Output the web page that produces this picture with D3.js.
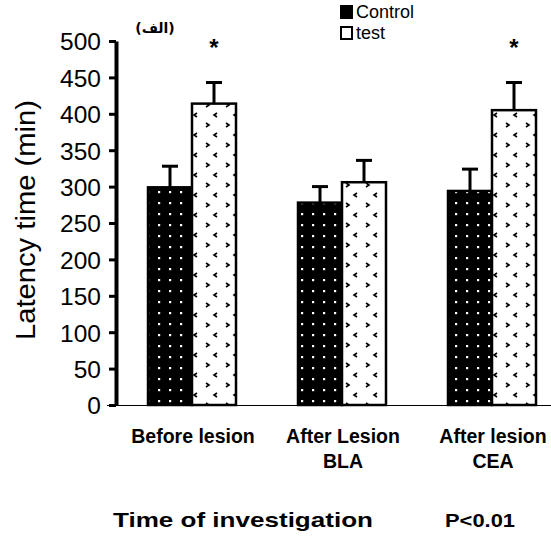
<!DOCTYPE html>
<html><head><meta charset="utf-8">
<script src="https://cdn.jsdelivr.net/npm/d3@7"></script>
<style>body{margin:0;background:#fff}svg{display:block}</style>
</head><body>
<script>
const categories = [["Before lesion"], ["After Lesion", "BLA"], ["After lesion", "CEA"]];
const series = ["Control", "test"];
const controlValues = [299, 278, 294];
const testValues = [414, 306, 405];
const controlErrors = [29, 22, 30];
const testErrors = [29, 30, 38];
const significant = [true, false, true];
const yTicks = [0, 50, 100, 150, 200, 250, 300, 350, 400, 450, 500];

const W = 551, H = 547;
const FONT = "Liberation Sans, Arial, sans-serif";
const svg = d3.select("body").append("svg").attr("width", W).attr("height", H);
const defs = svg.append("defs");
const pc = defs.append("pattern").attr("id", "pc").attr("patternUnits", "userSpaceOnUse")
  .attr("width", 11).attr("height", 11);
pc.append("rect").attr("width", 11).attr("height", 11).attr("fill", "#000");
pc.append("rect").attr("x", 4).attr("y", 4).attr("width", 2.2).attr("height", 2.2).attr("fill", "#fff");
const pt = defs.append("pattern").attr("id", "pt").attr("patternUnits", "userSpaceOnUse")
  .attr("width", 20).attr("height", 20).attr("x", 2);
pt.append("rect").attr("width", 20).attr("height", 20).attr("fill", "#fff");
pt.append("path").attr("d", "M4,3 l3,2 l-3,2 M15,13 l-3,2 l3,2")
  .attr("stroke", "#000").attr("stroke-width", 1.6).attr("fill", "none");

const x0 = 116, y0 = 405, yTop = 41;
const y = d3.scaleLinear().domain([0, 500]).range([y0, yTop]);
const xg = d3.scaleBand().domain(d3.range(categories.length)).range([148, 598]);
const xs = d3.scaleBand().domain(series).range([0, 88]);
const gx = i => xg(i);
const labelShift = [0, 0, 0];

// baseline
svg.append("line").attr("x1", 107).attr("x2", W).attr("y1", y0 + 0.5).attr("y2", y0 + 0.5)
  .attr("stroke", "#000").attr("stroke-width", 1.2);

const data = [];
categories.forEach((c, i) => {
  data.push({i, s: "Control", v: controlValues[i], e: controlErrors[i]});
  data.push({i, s: "test", v: testValues[i], e: testErrors[i]});
});
const g = svg.append("g");
const cx = d => gx(d.i) + xs(d.s) + xs.bandwidth() / 2;
g.selectAll(".eb").data(data).join("line")
  .attr("x1", cx).attr("x2", cx)
  .attr("y1", d => y(d.v)).attr("y2", d => y(d.v + d.e))
  .attr("stroke", "#000").attr("stroke-width", 3);
g.selectAll(".cap").data(data).join("line")
  .attr("x1", d => cx(d) - 8).attr("x2", d => cx(d) + 8)
  .attr("y1", d => y(d.v + d.e)).attr("y2", d => y(d.v + d.e))
  .attr("stroke", "#000").attr("stroke-width", 3);
g.selectAll(".bar").data(data).join("rect")
  .attr("x", d => gx(d.i) + xs(d.s))
  .attr("y", d => y(d.v))
  .attr("width", xs.bandwidth())
  .attr("height", d => y0 - y(d.v))
  .attr("fill", d => d.s === "Control" ? "url(#pc)" : "url(#pt)")
  .attr("stroke", "#000").attr("stroke-width", 2.5);

// y axis
const ax = svg.append("g").attr("transform", `translate(${x0},0)`)
  .call(d3.axisLeft(y).tickValues(yTicks).tickSize(7).tickSizeOuter(0).tickPadding(8));
ax.select(".domain").attr("stroke-width", 4);
ax.selectAll(".tick line").attr("stroke-width", 3);
ax.selectAll(".tick text").attr("font-family", FONT)
  .attr("font-size", 24.5).attr("fill", "#000").attr("dy", "0.36em");

// asterisks
svg.selectAll(".star").data(categories.map((c, i) => i).filter(i => significant[i])).join("text")
  .attr("x", i => gx(i) + xs("test") + xs.bandwidth() / 2)
  .attr("y", i => y(testValues[i] + testErrors[i]) - 26)
  .attr("text-anchor", "middle").attr("font-family", FONT)
  .attr("font-size", 24).attr("font-weight", "bold").text("*");

// category labels
categories.forEach((lines, i) => {
  lines.forEach((t, k) => {
    svg.append("text").attr("x", gx(i) + 45 + labelShift[i]).attr("y", 443 + k * 25)
      .attr("text-anchor", "middle").attr("font-family", FONT)
      .attr("font-size", 19.5).attr("font-weight", "bold").text(t);
  });
});

// axis titles
svg.append("text").attr("transform", "translate(35,220) rotate(-90)")
  .attr("text-anchor", "middle").attr("font-family", FONT)
  .attr("font-size", 27).attr("textLength", 240).attr("lengthAdjust", "spacingAndGlyphs")
  .text("Latency time (min)");
svg.append("text").attr("x", 113).attr("y", 527)
  .attr("font-family", FONT).attr("font-size", 21).attr("textLength", 260)
  .attr("lengthAdjust", "spacingAndGlyphs")
  .attr("font-weight", "bold").text("Time of investigation");
svg.append("text").attr("x", 445).attr("y", 527)
  .attr("font-family", FONT).attr("font-size", 18).attr("textLength", 70)
  .attr("lengthAdjust", "spacingAndGlyphs")
  .attr("font-weight", "bold").text("P<0.01");
svg.append("text").attr("x", 155).attr("y", 33).attr("text-anchor", "middle")
  .attr("font-family", "DejaVu Sans, sans-serif").attr("font-size", 14)
  .attr("font-weight", "bold").text("(الف)");

// legend
const lg = svg.append("g").attr("transform", "translate(340,4)");
series.forEach((s, k) => {
  lg.append("rect").attr("x", 1).attr("y", 2 + k * 21).attr("width", 11).attr("height", 12)
    .attr("fill", k === 0 ? "#000" : "#fff").attr("stroke", "#000").attr("stroke-width", 2);
  lg.append("text").attr("x", 16).attr("y", 14 + k * 21)
    .attr("font-family", FONT).attr("font-size", 18).text(s);
});
</script>
</body></html>
